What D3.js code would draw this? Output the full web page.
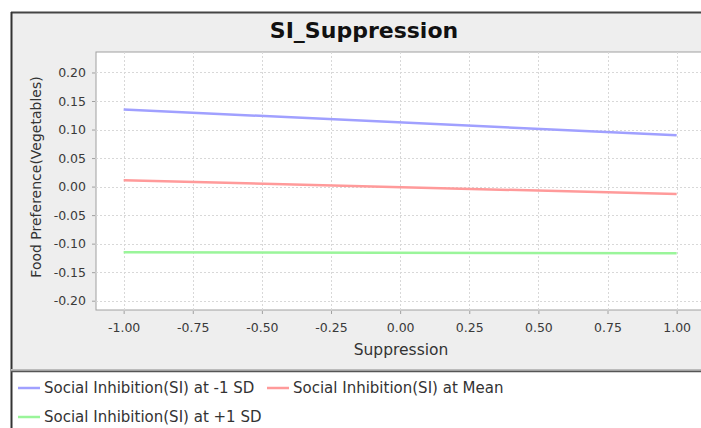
<!DOCTYPE html>
<html>
<head>
<meta charset="utf-8">
<script src="https://cdn.jsdelivr.net/npm/d3@7"></script>
<style>
  html, body { margin: 0; padding: 0; background: #ffffff; }
  svg { display: block; font-family: "DejaVu Sans", Verdana, sans-serif; }
</style>
</head>
<body>
<svg id="chart" width="701" height="428"></svg>
<script>
// Simple slopes of food preference against suppression, at three SI levels
const seriesNames = [
  "Social Inhibition(SI) at -1 SD",
  "Social Inhibition(SI) at Mean",
  "Social Inhibition(SI) at +1 SD"
];
const seriesColors = ["#a0a0ff", "#ff9a9a", "#9af59a"];
const suppression = [-1.0, 1.0];
const lowSI  = [0.135, 0.090];
const meanSI = [0.011, -0.013];
const highSI = [-0.115, -0.117];
const xTicks = [-1.0, -0.75, -0.5, -0.25, 0.0, 0.25, 0.5, 0.75, 1.0];
const yTicks = [-0.20, -0.15, -0.10, -0.05, 0.00, 0.05, 0.10, 0.15, 0.20];
const xRange = [-1.1, 1.1];
const yRange = [-0.2163, 0.2359];

const svg = d3.select("#chart");
const W = 701, H = 428;

// outer panel
svg.append("rect").attr("x", 12).attr("y", 13).attr("width", W - 12).attr("height", 358).attr("fill", "#eeeeee");
svg.append("rect").attr("x", 12).attr("y", 371).attr("width", W - 12).attr("height", H - 371).attr("fill", "#ffffff");
svg.append("line").attr("x1", 11).attr("x2", W).attr("y1", 12.5).attr("y2", 12.5).attr("stroke", "#444").attr("stroke-width", 2);
svg.append("line").attr("x1", 11.5).attr("x2", 11.5).attr("y1", 12).attr("y2", H).attr("stroke", "#333").attr("stroke-width", 2);
svg.append("line").attr("x1", 11).attr("x2", W).attr("y1", 370).attr("y2", 370).attr("stroke", "#bbbbbb").attr("stroke-width", 2);
svg.append("line").attr("x1", 11).attr("x2", W).attr("y1", 371.5).attr("y2", 371.5).attr("stroke", "#555").attr("stroke-width", 1.5);

// title
svg.append("text").attr("x", 364).attr("y", 38).attr("text-anchor", "middle")
  .attr("font-size", 22).attr("font-weight", "bold").attr("fill", "#111")
  .text("SI_Suppression");

const plot = { left: 96, top: 52, right: 704.3, bottom: 310 };
const x = d3.scaleLinear().domain(xRange).range([plot.left, plot.right]);
const y = d3.scaleLinear().domain(yRange).range([plot.bottom, plot.top]);

svg.append("rect").attr("x", plot.left).attr("y", plot.top)
  .attr("width", plot.right - plot.left).attr("height", plot.bottom - plot.top)
  .attr("fill", "#ffffff").attr("stroke", "#a0a0a0").attr("stroke-width", 1);

// grid
const grid = svg.append("g").attr("stroke", "#d8d8d8").attr("stroke-width", 1).attr("stroke-dasharray", "2,2");
grid.selectAll("line.v").data(xTicks).join("line")
  .attr("x1", d => Math.round(x(d)) + 0.5).attr("x2", d => Math.round(x(d)) + 0.5)
  .attr("y1", plot.top).attr("y2", plot.bottom);
grid.selectAll("line.h").data(yTicks).join("line")
  .attr("y1", d => Math.round(y(d)) + 0.5).attr("y2", d => Math.round(y(d)) + 0.5)
  .attr("x1", plot.left).attr("x2", plot.right);

// axes (plain hyphen for negatives)
const fmt = d => d.toFixed(2);
const xAxis = d3.axisBottom(x).tickValues(xTicks).tickFormat(fmt).tickSize(3).tickPadding(9);
const yAxis = d3.axisLeft(y).tickValues(yTicks).tickFormat(fmt).tickSize(3).tickPadding(6);

const gx = svg.append("g").attr("transform", `translate(0,${plot.bottom + 1})`).call(xAxis);
const gy = svg.append("g").attr("transform", `translate(${plot.left - 1},0)`).call(yAxis);
[gx, gy].forEach(g => {
  g.selectAll(".tick line").attr("stroke", "#a0a0a0");
  g.selectAll(".tick text").attr("font-size", 12.5).attr("fill", "#3a3a3a")
    .attr("font-family", "'DejaVu Sans', Verdana, sans-serif");
});
gx.select(".domain").remove();
gy.select(".domain").remove();

// axis labels
svg.append("text").attr("x", 401).attr("y", 355).attr("text-anchor", "middle")
  .attr("font-size", 15.5).attr("fill", "#333").text("Suppression");
svg.append("text").attr("transform", `translate(41,177) rotate(-90)`)
  .attr("text-anchor", "middle").attr("font-size", 14).attr("fill", "#333")
  .text("Food Preference(Vegetables)");

// series lines
const allSeries = [lowSI, meanSI, highSI];
const line = d3.line().x((d, i) => x(suppression[i])).y(d => y(d));
svg.append("g").selectAll("path").data(allSeries).join("path")
  .attr("d", d => line(d)).attr("fill", "none")
  .attr("stroke", (d, i) => seriesColors[i]).attr("stroke-width", 2.5);

// legend
const legendPos = [[18, 388], [267, 388], [18, 417]];
const lg = svg.append("g").selectAll("g").data(seriesNames).join("g")
  .attr("transform", (d, i) => `translate(${legendPos[i][0]},${legendPos[i][1]})`);
lg.append("line").attr("x1", 0).attr("x2", 22).attr("y1", 0).attr("y2", 0)
  .attr("stroke", (d, i) => seriesColors[i]).attr("stroke-width", 2.5);
lg.append("text").attr("x", 26).attr("y", 5).attr("font-size", 15).attr("fill", "#333").text(d => d);
</script>
</body>
</html>
